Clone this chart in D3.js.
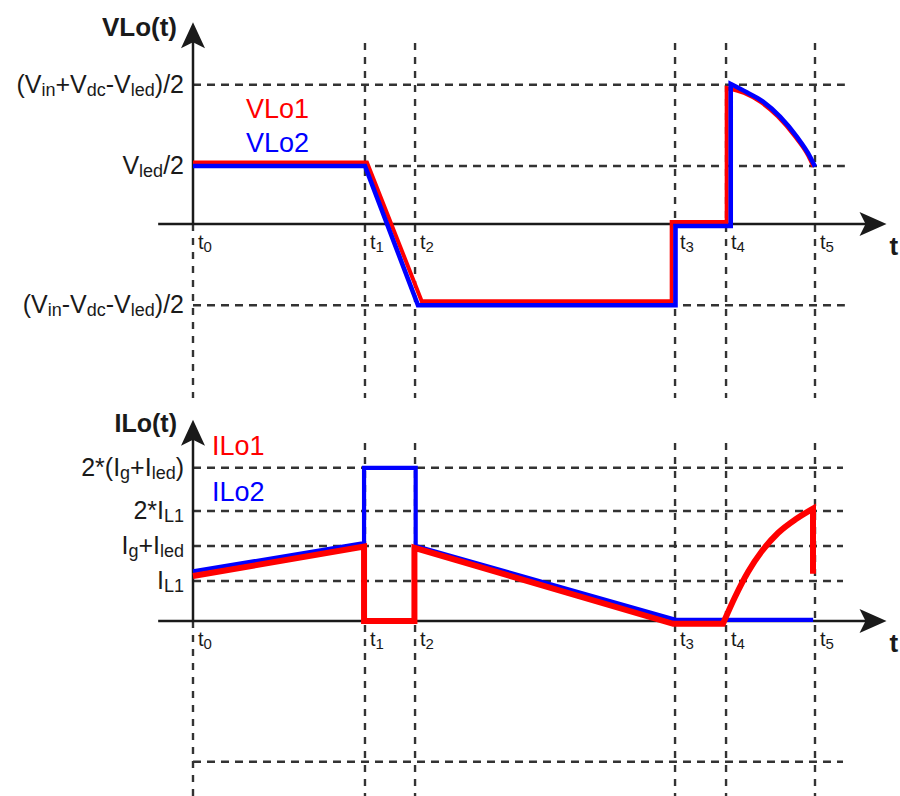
<!DOCTYPE html>
<html>
<head>
<meta charset="utf-8">
<script src="https://cdn.jsdelivr.net/npm/d3@7/dist/d3.min.js"></script>
<style>
  html, body { margin: 0; padding: 0; background: #fff; }
  svg { display: block; }
</style>
</head>
<body>
<svg id="chart" width="900" height="796"></svg>
<script>
// ---- switching instants (time in % of the period) ----
const timeLabels = ["t_{0}", "t_{1}", "t_{2}", "t_{3}", "t_{4}", "t_{5}"];
const timeValues = [0, 27.65, 35.7, 77.5, 85.7, 100];

// ---- voltage levels across Lo (in units of Vled/2) ----
const vLevelLabels = ["(V_{in}+V_{dc}-V_{led})/2", "V_{led}/2", "(V_{in}-V_{dc}-V_{led})/2"];
const vLevelValues = [2.4, 1, -1.4];

// ---- current levels through Lo (in units of IL1) ----
const iLevelLabels = ["2*(I_{g}+I_{led})", "2*I_{L1}", "I_{g}+I_{led}", "I_{L1}"];
const iLevelValues = [3.83, 2.75, 1.875, 1];
const iSpareLevel = [-3.52];

// ---- VLo1 : straight segments, then the resonant arc ----
const vlo1Steps = [[0, 1.06], [27.97, 1.06], [36.77, -1.33], [76.96, -1.33], [76.96, 0.035], [85.8, 0.035]];
const vlo1Arc = [[85.8, 2.345], [88.6, 2.26], [91.3, 2.1], [94.0, 1.855], [96.7, 1.52], [98.9, 1.18], [99.75, 0.99]];

// ---- VLo2 ----
const vlo2Steps = [[0, 1.0], [27.65, 1.0], [36.17, -1.4], [77.57, -1.4], [77.57, -0.035], [86.45, -0.035]];
const vlo2Arc = [[86.45, 2.414], [89.02, 2.271], [91.64, 2.109], [94.37, 1.85], [97.06, 1.505], [99.2, 1.16], [100, 0.988]];

// ---- ILo1 ----
const ilo1Steps = [[0, 1.125], [27.5, 1.86], [27.5, 0.0], [35.6, 0.0], [35.6, 1.83], [77.2, -0.07]];
const ilo1Arc = [[85.2, -0.07], [87.14, 0.6], [89.23, 1.225], [91.48, 1.75], [94.05, 2.2], [96.95, 2.55], [99.68, 2.81]];
const ilo1Tail = [[99.68, 1.18]];

// ---- ILo2 ----
const ilo2Steps = [[0, 1.24], [27.5, 1.95], [27.5, 3.83], [35.8, 3.83], [35.8, 1.875], [77.6, 0.03], [99.7, 0.03]];

// ---------------------------------------------------------------
const FONT = "'Liberation Sans', Arial, Helvetica, sans-serif";
const INK = "#1a1a1a";
const GRID = "#333";
const RED = "#ff0000";
const BLUE = "#0000ff";

const svg = d3.select("#chart");

const x = d3.scaleLinear().domain([0, 100]).range([193, 815]);
const yV = d3.scaleLinear().domain([0, 1]).range([224, 166]);
const yI = d3.scaleLinear().domain([0, 1]).range([621, 581]);

// axis and grid extents, in data units
const xAxisFrom = -5.6, xAxisTo = 111.5;
const vGridRight = 104.8, iGridRight = 104.5;
const vAxisTop = 3.48, iAxisTop = 5.03;
const vGridSpan = [3.12, -3.0], iGridSpan = [4.45, -4.4];

// text with _{...} subscripts turned into lowered tspans
function richText(sel, str, subSize, shift) {
  const parts = str.split(/(_\{[^}]*\})/).filter(s => s.length);
  let lowered = false;
  parts.forEach(p => {
    const m = p.match(/^_\{(.*)\}$/);
    const ts = sel.append("tspan");
    if (m) {
      ts.text(m[1]).attr("font-size", subSize).attr("dy", lowered ? 0 : shift);
      lowered = true;
    } else {
      ts.text(p).attr("dy", lowered ? -shift : 0);
      lowered = false;
    }
  });
}

function arrowUp(g, cx, cy) {
  g.append("path")
    .attr("d", `M${cx},${cy} L${cx - 12},${cy + 26} L${cx},${cy + 20} L${cx + 12},${cy + 26} Z`)
    .attr("fill", INK);
}
function arrowRight(g, cx, cy) {
  g.append("path")
    .attr("d", `M${cx},${cy} L${cx - 27},${cy - 12} L${cx - 21},${cy} L${cx - 27},${cy + 12} Z`)
    .attr("fill", INK);
}

// join several pieces (each with its own curve) into one continuous path
function joinedPath(pieces, y) {
  return pieces.map((pc, i) => {
    if (pc.pts.length === 1) {
      return `L${x(pc.pts[0][0])},${y(pc.pts[0][1])}`;
    }
    const d = d3.line().x(p => x(p[0])).y(p => y(p[1])).curve(pc.curve)(pc.pts);
    return i === 0 ? d : d.replace(/^M/, "L");
  }).join("");
}

function drawPanel(opts) {
  const { y, levels, labels, spare, gridRight, gridSpan, axisTop, labelDy, labelSize, subSize } = opts;
  const g = svg.append("g");

  // vertical dashed guides at each switching instant
  g.selectAll("line.vg").data(timeValues).join("line")
    .attr("x1", d => x(d)).attr("x2", d => x(d))
    .attr("y1", (d, i) => i === 0 ? y(0) : y(gridSpan[0]))
    .attr("y2", y(gridSpan[1]))
    .attr("stroke", GRID).attr("stroke-width", 2.4)
    .attr("stroke-dasharray", "7,7");

  // horizontal dashed guides at each level
  g.selectAll("line.hg").data(levels.concat(spare)).join("line")
    .attr("x1", x(0)).attr("x2", x(gridRight))
    .attr("y1", d => y(d)).attr("y2", d => y(d))
    .attr("stroke", GRID).attr("stroke-width", 2.4)
    .attr("stroke-dasharray", "8,6");

  // level labels
  g.selectAll("text.lv").data(levels).join("text")
    .attr("x", 184).attr("y", d => y(d) + labelDy)
    .attr("text-anchor", "end")
    .attr("font-family", FONT).attr("font-size", labelSize).attr("fill", INK)
    .each(function (d, i) { richText(d3.select(this), labels[i], subSize, 3); });

  // axes
  g.append("line").attr("x1", x(xAxisFrom)).attr("x2", x(xAxisTo) - 18)
    .attr("y1", y(0)).attr("y2", y(0)).attr("stroke", INK).attr("stroke-width", 2.5);
  g.append("line").attr("x1", x(0)).attr("x2", x(0))
    .attr("y1", y(0)).attr("y2", y(axisTop) + 18).attr("stroke", INK).attr("stroke-width", 2.5);
  arrowUp(g, x(0), y(axisTop));
  arrowRight(g, x(xAxisTo), y(0));

  // time labels under the axis
  g.selectAll("text.tl").data(timeValues).join("text")
    .attr("x", d => x(d) + 5).attr("y", y(0) + 25)
    .attr("font-family", FONT).attr("font-size", 20).attr("fill", INK)
    .each(function (d, i) { richText(d3.select(this), timeLabels[i], 15, 3); });

  g.append("text").attr("x", x(xAxisTo) + 3).attr("y", y(0) + 31)
    .attr("font-family", FONT).attr("font-weight", "bold").attr("font-size", 26)
    .attr("fill", INK).text("t");
  return g;
}

// ---------- upper panel : VLo(t) ----------
const upperPanel = drawPanel({
  y: yV, levels: vLevelValues, labels: vLevelLabels, spare: [],
  gridRight: vGridRight, gridSpan: vGridSpan, axisTop: vAxisTop,
  labelDy: 8, labelSize: 25, subSize: 18
});

upperPanel.append("text").attr("x", 177).attr("y", 36).attr("text-anchor", "end")
  .attr("font-family", FONT).attr("font-weight", "bold").attr("font-size", 26)
  .attr("fill", INK).text("VLo(t)");

upperPanel.append("path")
  .attr("d", joinedPath([{ pts: vlo1Steps, curve: d3.curveLinear }, { pts: vlo1Arc, curve: d3.curveMonotoneX }], yV))
  .attr("fill", "none").attr("stroke", RED).attr("stroke-width", 4).attr("stroke-linejoin", "miter");
upperPanel.append("path")
  .attr("d", joinedPath([{ pts: vlo2Steps, curve: d3.curveLinear }, { pts: vlo2Arc, curve: d3.curveMonotoneX }], yV))
  .attr("fill", "none").attr("stroke", BLUE).attr("stroke-width", 4.6).attr("stroke-linejoin", "miter");

upperPanel.append("text").attr("x", 246).attr("y", 118)
  .attr("font-family", FONT).attr("font-size", 27).attr("fill", RED).text("VLo1");
upperPanel.append("text").attr("x", 246).attr("y", 152)
  .attr("font-family", FONT).attr("font-size", 27).attr("fill", BLUE).text("VLo2");

// ---------- lower panel : ILo(t) ----------
const lowerPanel = drawPanel({
  y: yI, levels: iLevelValues, labels: iLevelLabels, spare: iSpareLevel,
  gridRight: iGridRight, gridSpan: iGridSpan, axisTop: iAxisTop,
  labelDy: 8, labelSize: 25, subSize: 18
});

lowerPanel.append("text").attr("x", 177).attr("y", 432).attr("text-anchor", "end")
  .attr("font-family", FONT).attr("font-weight", "bold").attr("font-size", 25)
  .attr("fill", INK).text("ILo(t)");

lowerPanel.append("path")
  .attr("d", joinedPath([{ pts: ilo2Steps, curve: d3.curveLinear }], yI))
  .attr("fill", "none").attr("stroke", BLUE).attr("stroke-width", 4.2).attr("stroke-linejoin", "miter");
lowerPanel.append("path")
  .attr("d", joinedPath([
    { pts: ilo1Steps, curve: d3.curveLinear },
    { pts: ilo1Arc, curve: d3.curveMonotoneX },
    { pts: ilo1Tail, curve: d3.curveLinear }
  ], yI))
  .attr("fill", "none").attr("stroke", RED).attr("stroke-width", 6).attr("stroke-linejoin", "miter");

lowerPanel.append("text").attr("x", 212).attr("y", 455)
  .attr("font-family", FONT).attr("font-size", 27).attr("fill", RED).text("ILo1");
lowerPanel.append("text").attr("x", 212).attr("y", 501)
  .attr("font-family", FONT).attr("font-size", 27).attr("fill", BLUE).text("ILo2");
</script>
</body>
</html>
